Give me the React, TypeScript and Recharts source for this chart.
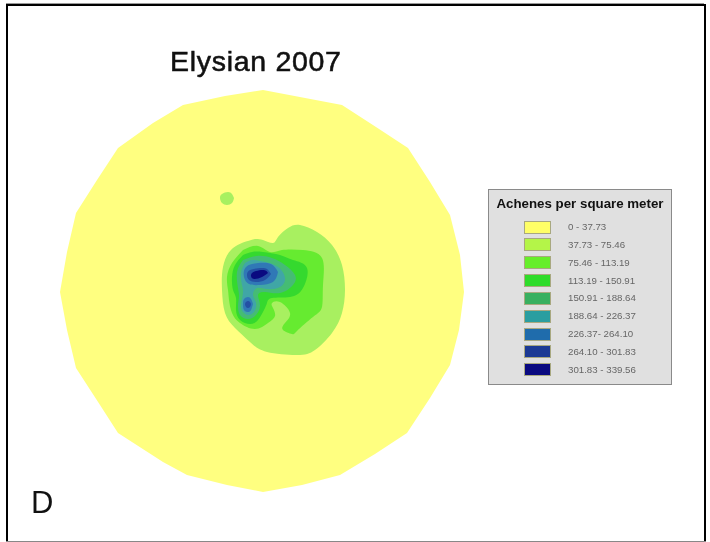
import React from "react";
import { ScatterChart, Scatter, XAxis, YAxis, Legend } from "recharts";

type P = [number, number];

const legendTitle = "Achenes per square meter";
const chartTitle = "Elysian 2007";
const panelLetter = "D";

const classLabels = [
  "0 - 37.73",
  "37.73 - 75.46",
  "75.46 - 113.19",
  "113.19 - 150.91",
  "150.91 - 188.64",
  "188.64 - 226.37",
  "226.37- 264.10",
  "264.10 - 301.83",
  "301.83 - 339.56",
];
const classColors = [
  "#FFFF80",
  "#A8F060",
  "#66EB30",
  "#35D92E",
  "#45BC74",
  "#40A6A6",
  "#3078B6",
  "#2450A4",
  "#0A0A80",
];
const legendSwatches = [
  "#FFFF66",
  "#B4F548",
  "#66EE2A",
  "#2EDC2A",
  "#38B060",
  "#2A9EA0",
  "#1F6CAC",
  "#1C3A94",
  "#0A0A80",
];

const class0: P[] = [[263,90],[342,105],[376,127],[408,148],[430,182],[450,215],[460,255],[464,292],[459,330],[450,365],[430,398],[407,433],[375,454],[340,475],[302,485],[263,492],[227,485],[187,475],[163,462],[118,433],[100,405],[76,368],[67,330],[60,292],[67,252],[76,213],[97,180],[118,148],[153,123],[183,105],[225,96]];
const class1Small: P[] = [[234,198],[232,203],[227,205],[222,203],[220,198],[222,194],[228,192],[232,194]];
const class1Main: P[] = [[255,239],[233,248],[223,267],[222,290],[225,313],[235,328],[250,342],[267,352],[297,355],[315,350],[332,333],[342,313],[345,290],[342,265],[332,245],[317,232],[300,225],[288,228],[278,237],[273,243],[263,240]];
const class2: P[] = [[243,250],[232,263],[227,277],[228,290],[229,300],[232,313],[240,323],[255,329],[268,323],[275,316],[273,308],[272,303],[280,302],[290,313],[285,323],[283,330],[292,334],[297,331],[313,317],[322,307],[323,285],[322,258],[303,250],[282,250],[270,252],[258,246]];
const class3: P[] = [[243,255],[235,265],[232,277],[233,290],[236,298],[236,310],[240,320],[250,324],[258,320],[264,310],[267,303],[272,298],[290,297],[303,288],[307,268],[293,260],[280,255],[263,252],[252,252]];
const class4: P[] = [[243,260],[237,272],[238,288],[239,297],[238,305],[240,315],[248,319],[256,315],[260,305],[258,295],[265,292],[280,293],[293,285],[295,275],[285,265],[272,258],[257,256]];
const class5: P[] = [[245,263],[241,273],[242,285],[243,293],[241,305],[243,312],[248,315],[254,312],[256,303],[253,295],[257,288],[267,289],[280,287],[285,278],[278,267],[265,262],[253,260]];
const class6Upper: P[] = [[278,272],[273,282],[260,285],[249,284],[244,277],[246,267],[258,263],[271,264]];
const class6Lower: P[] = [[253,304],[251,310],[248,312],[244,310],[243,304],[244,299],[248,297],[251,299]];
const class7Upper: P[] = [[271,274],[265,280],[256,282],[249,280],[247,275],[250,270],[260,268],[267,269]];
const class7Lower: P[] = [[251,304],[250,307],[248,308],[246,307],[245,304],[246,302],[248,301],[250,302]];
const class8: P[] = [[268,273],[262,277],[254,279],[251,276],[252,273],[256,271],[264,270]];

const contours: { name: string; pts: P[]; cls: number; joint: string }[] = [
  { name: "c0", pts: class0, cls: 0, joint: "linear" },
  { name: "c1s", pts: class1Small, cls: 1, joint: "natural" },
  { name: "c1", pts: class1Main, cls: 1, joint: "natural" },
  { name: "c2", pts: class2, cls: 2, joint: "natural" },
  { name: "c3", pts: class3, cls: 3, joint: "natural" },
  { name: "c4", pts: class4, cls: 4, joint: "natural" },
  { name: "c5", pts: class5, cls: 5, joint: "natural" },
  { name: "c6u", pts: class6Upper, cls: 6, joint: "natural" },
  { name: "c6l", pts: class6Lower, cls: 6, joint: "natural" },
  { name: "c7u", pts: class7Upper, cls: 7, joint: "natural" },
  { name: "c7l", pts: class7Lower, cls: 7, joint: "natural" },
  { name: "c8", pts: class8, cls: 8, joint: "natural" },
];

const sans = "'Liberation Sans', Arial, sans-serif";

function LegendBox() {
  return (
    <div
      style={{
        width: 184,
        height: 196,
        boxSizing: "border-box",
        background: "#E0E0E0",
        border: "1.5px solid #8a8a8a",
        fontFamily: sans,
        position: "relative",
      }}
    >
      <div
        style={{
          position: "absolute",
          left: 0,
          right: 0,
          top: 6,
          textAlign: "center",
          fontSize: 13.3,
          fontWeight: 700,
          color: "#111",
          whiteSpace: "nowrap",
        }}
      >
        {legendTitle}
      </div>
      {classLabels.map((label, i) => (
        <React.Fragment key={label}>
          <div
            style={{
              position: "absolute",
              left: 35,
              top: 30.5 + i * 17.85,
              width: 27,
              height: 13,
              boxSizing: "border-box",
              background: legendSwatches[i],
              border: "1px solid #a8a880",
            }}
          />
          <div
            style={{
              position: "absolute",
              left: 79,
              top: 31 + i * 17.85,
              fontSize: 9.7,
              lineHeight: "12px",
              color: "#666",
              whiteSpace: "nowrap",
            }}
          >
            {label}
          </div>
        </React.Fragment>
      ))}
    </div>
  );
}

export default function App() {
  return (
    <div
      style={{
        position: "absolute",
        left: 0,
        top: 0,
        width: 710,
        height: 542,
        background: "#fff",
        overflow: "hidden",
        filter: "blur(0.6px)",
      }}
    >
      <div style={{ position: "absolute", left: 6, top: 3, width: 698, height: 1, background: "#999" }} />
      <div style={{ position: "absolute", left: 6, top: 4, width: 700, height: 2, background: "#000" }} />
      <div style={{ position: "absolute", left: 6, top: 4, width: 2, height: 537, background: "#000" }} />
      <div style={{ position: "absolute", left: 704, top: 4, width: 2, height: 537, background: "#000" }} />
      <div style={{ position: "absolute", left: 6, top: 540.5, width: 700, height: 1.5, background: "#888" }} />
      <ScatterChart width={710} height={542} margin={{ top: 0, right: 0, bottom: 0, left: 0 }} style={{ position: "absolute", left: 0, top: 0 }}>
        <XAxis type="number" dataKey="x" domain={[0, 710]} hide />
        <YAxis type="number" dataKey="y" domain={[0, 542]} reversed hide />
        {contours.map((c) => (
          <Scatter
            key={c.name}
            name={c.name}
            data={[...c.pts, c.pts[0]].map(([x, y]) => ({ x, y }))}
            isAnimationActive={false}
            fill={classColors[c.cls]}
            line={{ fill: classColors[c.cls], stroke: "none" }}
            lineType="joint"
            lineJointType={c.joint as any}
            shape={() => <g />}
            legendType="none"
          />
        ))}
        <text x={170} y={71} fontFamily={sans} fontSize={28.5} letterSpacing={0.7} fill="#111" stroke="#111" strokeWidth={0.55}>
          {chartTitle}
        </text>
        <text x={31} y={513} fontFamily={sans} fontSize={31} fill="#111">
          {panelLetter}
        </text>
        <Legend
          layout="vertical"
          align="center"
          verticalAlign="middle"
          content={() => <LegendBox />}
          wrapperStyle={{ position: "absolute", left: 488, top: 189, width: 184, height: 196 }}
        />
      </ScatterChart>
    </div>
  );
}
